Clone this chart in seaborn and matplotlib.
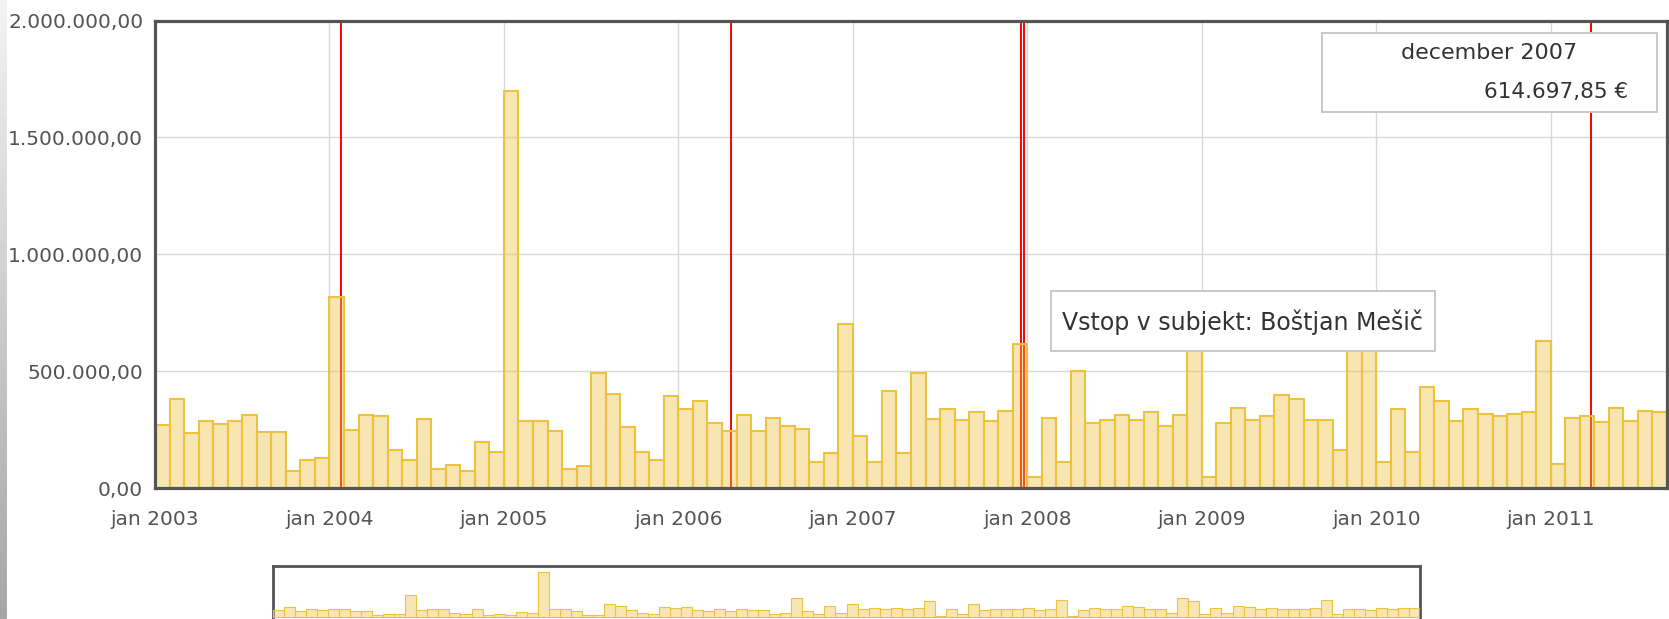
import numpy as np
import pandas as pd
import matplotlib
matplotlib.use("Agg")
import matplotlib.pyplot as plt
from matplotlib.patches import Rectangle
import seaborn as sns

# ---------------- data ----------------
years = [2003, 2004, 2005, 2006, 2007, 2008, 2009, 2010, 2011]
values_2003 = [270000, 382000, 235000, 285000, 272000, 287000, 311000, 241000, 239000, 73000, 120000, 130000]
values_2004 = [815000, 249000, 314000, 310000, 162000, 121000, 296000, 82000, 100000, 73000, 196000, 155000]
values_2005 = [1700000, 286000, 287000, 242000, 83000, 94000, 490000, 404000, 263000, 154000, 118000, 394000]
values_2006 = [340000, 373000, 279000, 242000, 314000, 242000, 301000, 265000, 251000, 111000, 148000, 703000]
values_2007 = [221000, 113000, 417000, 148000, 494000, 294000, 337000, 293000, 323000, 286000, 330000, 614697.85]
values_2008 = [49000, 301000, 113000, 499000, 277000, 293000, 314000, 293000, 323000, 266000, 314000, 650000]
values_2009 = [46000, 277000, 344000, 292000, 308000, 399000, 382000, 292000, 290000, 162000, 700000, 620000]
values_2010 = [110000, 337000, 155000, 432000, 373000, 286000, 339000, 317000, 307000, 315000, 323000, 630000]
values_2011 = [103000, 300000, 306000, 282000, 344000, 285000, 328000, 325000]

yearly_values = [values_2003, values_2004, values_2005, values_2006, values_2007,
                 values_2008, values_2009, values_2010, values_2011]

month_labels = []
values = []
for yr, vals in zip(years, yearly_values):
    for m, v in enumerate(vals, start=1):
        month_labels.append(f"{yr}-{m:02d}")
        values.append(v)

ytick_values = [0, 500000, 1000000, 1500000, 2000000]
xtick_labels = ["jan 2003", "jan 2004", "jan 2005", "jan 2006", "jan 2007",
                "jan 2008", "jan 2009", "jan 2010", "jan 2011"]
event_dates = ["2004-01-26", "2006-04-19", "2007-12-19", "2007-12-26", "2011-03-24"]
tooltip_title = "december 2007"
tooltip_value = "614.697,85 €"
annotation_text = "Vstop v subjekt: Boštjan Mešič"

# ---------------- helpers ----------------
def fmt_sl(v):
    s = f"{v:,.2f}"
    return s.replace(",", "X").replace(".", ",").replace("X", ".")

def month_pos(datestr):
    d = pd.Timestamp(datestr)
    idx = (d.year - years[0]) * 12 + (d.month - 1)
    return idx + (d.day - 1) / d.days_in_month

sns.set_style("white")
plt.rcParams["font.family"] = ["DejaVu Sans"]

W, H = 1669, 619
def box(l, t, r, b):
    return [l / W, 1 - b / H, (r - l) / W, (b - t) / H]

FLOT = (237 / 255, 194 / 255, 64 / 255)
FILL = FLOT + (0.4,)
AXC = "#545454"

df = pd.DataFrame({"month": month_labels, "value": values})

fig = plt.figure(figsize=(W / 100, H / 100), dpi=100)
fig.patch.set_facecolor("white")

# left gradient strip
gax = fig.add_axes(box(0, 0, 6, H))
grad = np.linspace(0.95, 0.65, 256).reshape(-1, 1)
gax.imshow(grad, cmap="gray", vmin=0, vmax=1, aspect="auto", extent=[0, 1, 0, 1])
gax.axis("off")

# ---------------- main chart ----------------
ax = fig.add_axes(box(155, 20.5, 1667, 488))
sns.barplot(data=df, x="month", y="value", order=month_labels, color=FLOT,
            width=1.0, saturation=1, errorbar=None, linewidth=1.5,
            edgecolor=FLOT, zorder=3, ax=ax)
for p in ax.patches:
    p.set_facecolor(FILL)
    p.set_edgecolor(FLOT)

n = len(values)
ax.set_xlim(-0.5, n - 0.5)
ax.set_ylim(ytick_values[0], ytick_values[-1])
ax.set_xticks([12 * k - 0.5 for k in range(len(xtick_labels))])
ax.set_xticklabels(xtick_labels)
ax.set_yticks(ytick_values)
ax.set_yticklabels([fmt_sl(v) for v in ytick_values])
ax.set_xlabel("")
ax.set_ylabel("")
ax.grid(True, color="#d9d9d9", linewidth=1.0)
ax.set_axisbelow(True)
ax.tick_params(axis="both", length=0, labelsize=14.5, labelcolor=AXC)
ax.tick_params(axis="x", pad=15.5)
ax.tick_params(axis="y", pad=8.5)
for sp in ax.spines.values():
    sp.set_color(AXC)
    sp.set_linewidth(2.3)
    sp.set_zorder(5)

for d in event_dates:
    ax.axvline(month_pos(d) - 0.5, color="#ff0000", linewidth=1.4, zorder=2)

# tooltip box
fig.patches.append(Rectangle((1322 / W, 1 - 112 / H), 335 / W, 79 / H,
                             transform=fig.transFigure, facecolor="white",
                             edgecolor="#c8c8c8", linewidth=1.4, zorder=10))
fig.text(1489.5 / W, 1 - 53 / H, tooltip_title, ha="center", va="center",
         fontsize=16, color="#333333", zorder=11)
fig.text(1628 / W, 1 - 92 / H, tooltip_value, ha="right", va="center",
         fontsize=15.5, color="#333333", zorder=11)

# annotation box
fig.patches.append(Rectangle((1051 / W, 1 - 351 / H), 384 / W, 60 / H,
                             transform=fig.transFigure, facecolor="white",
                             edgecolor="#c8c8c8", linewidth=1.4, zorder=10))
fig.text(1062 / W, 1 - 322 / H, annotation_text, ha="left", va="center",
         fontsize=17, color="#333333", zorder=11)

# ---------------- navigator ----------------
nav = fig.add_axes(box(273, 566, 1420, 640))
sns.barplot(data=df, x="month", y="value", order=month_labels, color=FLOT,
            width=1.0, saturation=1, errorbar=None, linewidth=0.8,
            edgecolor=FLOT, zorder=3, ax=nav)
for p in nav.patches:
    p.set_facecolor(FILL)
    p.set_edgecolor(FLOT)
nav.set_xlim(-0.5, n - 0.5)
nav.set_ylim(-0.868e6, 1.925e6)
nav.set_xticks([])
nav.set_yticks([])
nav.set_xlabel("")
nav.set_ylabel("")
for sp in nav.spines.values():
    sp.set_color(AXC)
    sp.set_linewidth(2.0)
nav.spines["bottom"].set_visible(False)

fig.savefig("out.png", dpi=100, facecolor="white")
